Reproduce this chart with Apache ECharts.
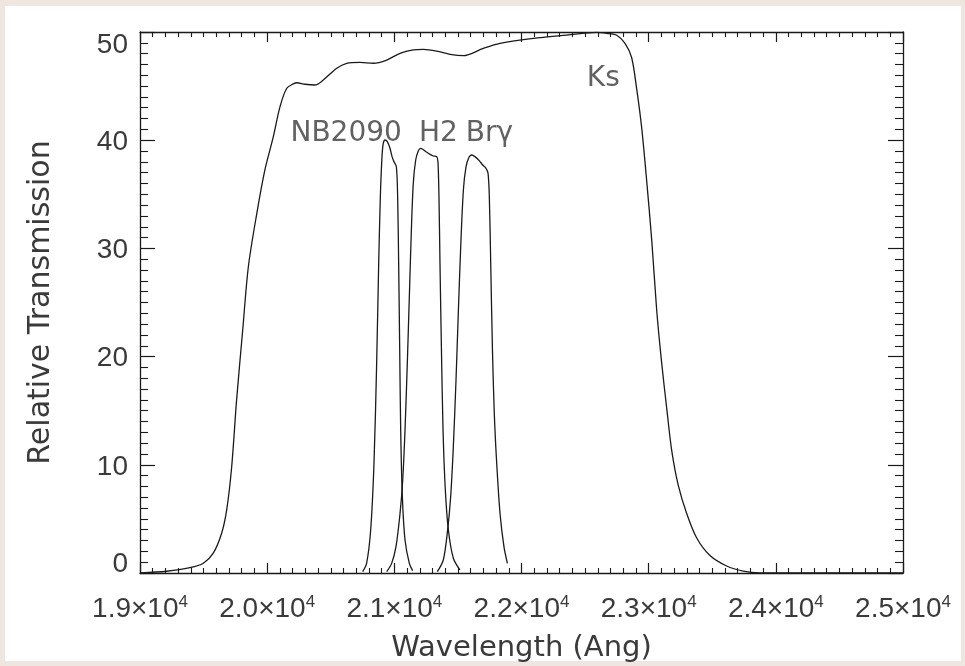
<!DOCTYPE html>
<html>
<head>
<meta charset="utf-8">
<style>
  html, body { margin: 0; padding: 0; background: #efe7df; }
  #paper { position: absolute; left: 5px; top: 6px; width: 956px; height: 655px; background: #ffffff; }
  #chart { position: absolute; left: 0; top: 0; width: 965px; height: 666px; }
</style>
<script src="https://cdn.jsdelivr.net/npm/echarts@6/dist/echarts.min.js"></script>
</head>
<body>
<div id="paper"></div>
<div id="chart"></div>
<script>
// Ks broad band
const ksWave = [19000, 19210, 19393, 19498, 19576, 19642, 19682, 19721, 19760, 19808, 19852, 19918, 19983, 20048, 20101, 20154, 20206, 20232, 20297, 20376, 20441, 20547, 20625, 20730, 20835, 20940, 21045, 21149, 21228, 21333, 21438, 21542, 21700, 21831, 22093, 22355, 22591, 22670, 22749, 22814, 22866, 22906, 22945, 22984, 23024, 23063, 23102, 23142, 23181, 23233, 23299, 23378, 23482, 23613, 23744, 23875, 24200, 25000]
const ksTrans = [0, 0.16, 0.49, 0.9, 1.83, 3.67, 5.85, 9.82, 16.05, 22.5, 28.3, 33.2, 37.3, 40.3, 43.1, 44.8, 45.2, 45.31, 45.17, 45.1, 45.56, 46.65, 47.11, 47.2, 47.11, 47.41, 48.03, 48.34, 48.4, 48.24, 47.94, 47.81, 48.49, 48.95, 49.42, 49.72, 49.97, 49.88, 49.7, 48.94, 47.64, 44.72, 41.16, 36.29, 30.79, 24.31, 19.44, 15.22, 11.34, 8.1, 5.5, 3.23, 1.61, 0.65, 0.18, 0.02, 0, 0]

// NB2090 narrow band
const nbWave = [20751, 20782, 20814, 20840, 20861, 20877, 20890, 20903, 20913, 20927, 20945, 20966, 20982, 20997, 21016, 21026, 21034, 21042, 21050, 21063, 21084, 21118, 21144]
const nbTrans = [0.12, 0.89, 3.97, 10.14, 19.38, 28.62, 34.78, 38.48, 39.71, 40.02, 39.87, 39.25, 38.48, 38.02, 37.55, 34.78, 28.62, 20.92, 13.22, 7.06, 3.05, 0.89, 0.22]

// H2
const h2Wave = [20940, 20979, 21013, 21045, 21066, 21084, 21102, 21118, 21134, 21149, 21168, 21189, 21207, 21223, 21249, 21281, 21307, 21333, 21343, 21351, 21359, 21370, 21383, 21401, 21425, 21464, 21516]
const h2Trans = [0.12, 0.89, 2.43, 5.52, 8.6, 13.22, 19.38, 25.54, 31.7, 36.01, 38.17, 39.03, 39.25, 39.16, 38.94, 38.69, 38.54, 38.48, 38.02, 34.78, 28.62, 20.92, 13.22, 7.67, 3.97, 1.36, 0.28]

// Br gamma
const brWave = [21338, 21385, 21419, 21443, 21464, 21485, 21503, 21522, 21543, 21564, 21587, 21608, 21634, 21668, 21695, 21721, 21737, 21747, 21758, 21771, 21786, 21805, 21831, 21862, 21889]
const brTrans = [0.12, 1.2, 3.97, 7.06, 11.68, 17.84, 24.0, 30.16, 35.4, 37.55, 38.42, 38.63, 38.48, 38.11, 37.71, 37.4, 36.94, 34.78, 28.62, 20.92, 14.76, 10.14, 5.52, 2.43, 0.89]

// filter name labels (data coordinates of the text centre)
const labelNames = ['Ks', 'NB2090', 'H2', 'Br\u03b3']
const labelWave = [22643, 20621, 21346, 21748]
const labelTrans = [45.7, 40.6, 40.6, 40.6]

const xMin = 19000
const xMax = 25000
const xStep = 1000
const yMin = 0
const yMax = 50
const yStep = 10

const ink = '#1a1a1a'
const textInk = '#3a3a3a'
const tickFont = 'Liberation Sans'
const titleFont = 'DejaVu Sans'

const pairs = (xs, ys) => xs.map((x, i) => [x, ys[i]])

const lineSeries = (name, xs, ys) => ({
    name,
    type: 'line',
    data: pairs(xs, ys),
    showSymbol: false,
    smooth: 0.3,
    lineStyle: { color: ink, width: 1.3 },
    silent: true
})

const frameAxis = (isX, extra) => Object.assign({
    type: 'value',
    min: isX ? xMin : yMin,
    max: isX ? xMax : yMax,
    interval: isX ? xStep : yStep,
    axisLine: { show: true, onZero: false, lineStyle: { color: ink, width: 1.3 } },
    axisTick: { show: true, inside: true, length: isX ? 10 : 15, lineStyle: { color: ink, width: 1.2 } },
    minorTick: { show: true, splitNumber: 10, length: isX ? 5 : 8, lineStyle: { color: ink, width: 1.1 } },
    splitLine: { show: false },
    minorSplitLine: { show: false },
    axisLabel: { show: false }
}, extra)

const chart = echarts.init(document.getElementById('chart'), null, { renderer: 'canvas' })

chart.setOption({
    animation: false,
    backgroundColor: 'transparent',
    grid: { left: 140, right: 62, top: 32, bottom: 93, containLabel: false, outerBoundsMode: 'none' },
    xAxis: [
        frameAxis(true, {
            position: 'bottom',
            name: 'Wavelength (Ang)',
            nameLocation: 'middle',
            nameGap: 61,
            nameTextStyle: { fontFamily: titleFont, fontSize: 29, color: textInk },
            axisLabel: {
                show: true,
                interval: 0,
                margin: 21,
                showMinLabel: true,
                showMaxLabel: true,
                hideOverlap: false,
                formatter: v => '{a|' + (v / 1e4).toFixed(1) + '\u00d710}{s|4}',
                rich: {
                    a: { fontFamily: tickFont, fontSize: 28, color: textInk, lineHeight: 30 },
                    s: { fontFamily: tickFont, fontSize: 17, color: textInk, lineHeight: 17, verticalAlign: 'top' }
                }
            }
        }),
        frameAxis(true, { position: 'top' })
    ],
    yAxis: [
        frameAxis(false, {
            position: 'left',
            name: 'Relative Transmission',
            nameLocation: 'middle',
            nameGap: 84,
            nameTextStyle: { fontFamily: titleFont, fontSize: 30, color: textInk },
            axisLabel: {
                show: true,
                margin: 12,
                formatter: v => {
                    if (v === yMin) return '{lo|' + v + '}'
                    if (v === yMax) return '{hi|' + v + '}'
                    return '{n|' + v + '}'
                },
                rich: {
                    n: { fontFamily: tickFont, fontSize: 28, color: textInk, padding: [4, 0, 0, 0] },
                    lo: { fontFamily: tickFont, fontSize: 28, color: textInk, padding: [0, 0, 18, 0] },
                    hi: { fontFamily: tickFont, fontSize: 28, color: textInk, padding: [26, 0, 0, 0] }
                }
            }
        }),
        frameAxis(false, { position: 'right' })
    ],
    series: [
        lineSeries('Ks', ksWave, ksTrans),
        lineSeries('NB2090', nbWave, nbTrans),
        lineSeries('H2', h2Wave, h2Trans),
        lineSeries('Br\u03b3', brWave, brTrans),
        {
            name: 'labels',
            type: 'scatter',
            symbolSize: 0,
            silent: true,
            data: labelNames.map((n, i) => ({ name: n, value: [labelWave[i], labelTrans[i]] })),
            label: {
                show: true,
                position: 'inside',
                formatter: p => p.name,
                fontFamily: titleFont,
                fontSize: 28,
                color: textInk
            }
        }
    ]
})
</script>
</body>
</html>
